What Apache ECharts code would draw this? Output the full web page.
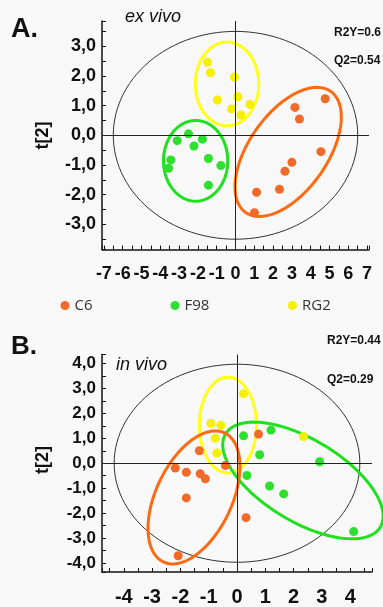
<!DOCTYPE html>
<html>
<head>
<meta charset="utf-8">
<script src="https://cdn.jsdelivr.net/npm/echarts@6/dist/echarts.min.js"></script>
<style>
  html, body { margin: 0; padding: 0; background: #f8f8f8; }
  #chart { width: 383px; height: 607px; }
</style>
</head>
<body>
<div id="chart"></div>
<script>
// score values t[1], t[2]
const c6A = [[4.77, 1.23], [3.16, 0.94], [3.40, 0.55], [4.54, -0.55], [3.00, -0.91], [2.63, -1.21], [2.34, -1.82], [1.12, -1.92], [1.01, -2.61]];
const f98A = [[-2.50, 0.05], [-3.10, -0.18], [-1.76, -0.13], [-2.21, -0.36], [-3.44, -0.83], [-3.56, -1.11], [-1.44, -0.78], [-0.78, -1.02], [-1.44, -1.68]];
const rg2A = [[-1.49, 2.46], [-1.33, 2.11], [-0.05, 1.96], [0.13, 1.30], [-0.96, 1.19], [-0.21, 0.89], [0.77, 1.04], [0.29, 0.68]];

const c6B = [[0.76, 1.17], [-1.33, 0.50], [-2.18, -0.19], [-1.79, -0.36], [-1.30, -0.42], [-1.12, -0.62], [-0.41, -0.09], [-1.79, -1.39], [0.32, -2.18], [-2.08, -3.71]];
const f98B = [[0.23, 1.10], [1.20, 1.33], [0.80, 0.34], [2.92, 0.06], [0.35, -0.49], [1.15, -0.91], [1.65, -1.23], [4.12, -2.74]];
const rg2B = [[0.23, 2.79], [-0.92, 1.60], [-0.57, 1.52], [-0.77, 1.00], [-0.71, 0.41], [2.35, 1.07]];

// ellipses: centre x, centre y, then the two half-axis vectors (u, v)
const ringNames = ['T2', 'RG2', 'F98', 'C6'];
const ringsA = [
  [0, 0, 6.5, 0, 0, 3.5],
  [-0.45, 1.73, 1.69, 0, 0, 1.41],
  [-2.12, -0.86, 1.71, 0, 0, 1.36],
  [2.80, -0.56, 2.26, 2.04, 1.70, -0.754]
];
const ringsB = [
  [0, 0, 4.34, 0, 0, 3.97],
  [-0.32, 1.53, 1.01, 0, 0, 1.92],
  [2.33, -0.69, 2.73, -1.877, 0.762, 1.398],
  [-1.52, -1.37, 1.076, 2.589, 1.217, -0.638]
];

const xTicksA = [-7, -6, -5, -4, -3, -2, -1, 0, 1, 2, 3, 4, 5, 6, 7];
const yTicksA = [-3, -2, -1, 0, 1, 2, 3];
const xTicksB = [-4, -3, -2, -1, 0, 1, 2, 3, 4];
const yTicksB = [-4, -3, -2, -1, 0, 1, 2, 3, 4];

const colors = { C6: '#f26a2a', F98: '#2ee02e', RG2: '#f5ef00' };
const ringStyle = {
  T2: { color: '#333', width: 1 },
  C6: { color: '#ff6a10', width: 3 },
  F98: { color: '#1ee01e', width: 3 },
  RG2: { color: '#ffff1a', width: 3 }
};

const FONT = 'Liberation Sans';

// unit ticks from the auto scale (splitNumber picks 1), half ticks as minor ticks
function baseAxis(grid, r, split, ticks, labelStyle) {
  return {
    type: 'value', gridIndex: grid, min: -r, max: r, splitNumber: split,
    axisLine: { onZero: false, lineStyle: { color: '#111', width: 1.5 } },
    axisTick: { inside: true, length: 4, lineStyle: { color: '#111', width: 1 } },
    minorTick: { show: true, splitNumber: 2, length: 4, lineStyle: { color: '#111', width: 1 } },
    axisLabel: Object.assign({ customValues: ticks, color: '#111', fontFamily: FONT, fontWeight: 'bold' }, labelStyle),
    splitLine: { show: false }
  };
}

function xAxisFor(grid, r, split, ticks, size) {
  return baseAxis(grid, r, split, ticks, { fontSize: size, margin: 15, formatter: (v) => String(v) });
}

function yAxisFor(grid, r, split, ticks, size) {
  return baseAxis(grid, r, split, ticks, {
    fontSize: size, margin: 6,
    formatter: (v) => v.toFixed(1).replace('.', ',')
  });
}

function ringSeries(grid, rings) {
  return {
    type: 'custom', xAxisIndex: grid, yAxisIndex: grid, silent: true, clip: false, z: 1,
    data: rings, encode: { x: 0, y: 1 },
    renderItem: function (params, api) {
      const cx = api.value(0), cy = api.value(1);
      const ux = api.value(2), uy = api.value(3), vx = api.value(4), vy = api.value(5);
      const pts = [];
      for (let i = 0; i < 120; i++) {
        const t = (i / 120) * Math.PI * 2;
        pts.push(api.coord([cx + ux * Math.cos(t) + vx * Math.sin(t), cy + uy * Math.cos(t) + vy * Math.sin(t)]));
      }
      const st = ringStyle[ringNames[params.dataIndex]];
      return { type: 'polygon', shape: { points: pts }, style: { fill: 'none', stroke: st.color, lineWidth: st.width } };
    }
  };
}

function crossSeries(grid) {
  return {
    type: 'scatter', xAxisIndex: grid, yAxisIndex: grid, data: [], silent: true, z: 2,
    markLine: {
      silent: true, symbol: 'none', label: { show: false }, animation: false,
      lineStyle: { color: '#222', width: 1, type: 'solid' },
      data: [{ xAxis: 0 }, { yAxis: 0 }]
    }
  };
}

function dots(name, grid, data) {
  return {
    name: name, type: 'scatter', xAxisIndex: grid, yAxisIndex: grid, z: 3,
    symbolSize: 9, data: data, itemStyle: { color: colors[name], opacity: 1 }
  };
}

function legendAt(name, left) {
  return {
    data: [name], left: left, top: 293, icon: 'circle', itemWidth: 9, itemHeight: 9,
    selectedMode: false,
    textStyle: { fontFamily: 'Open Sans', fontSize: 15, color: '#333' }
  };
}

function label(text, left, top, font) {
  return { type: 'text', left: left, top: top, style: { text: text, font: font, fill: '#111' } };
}

// rotated y-axis title, centred on (x, y)
function yTitle(x, y) {
  return {
    type: 'text', x: x, y: y, rotation: Math.PI / 2,
    style: { text: 't[2]', font: 'bold 18px "Liberation Sans"', fill: '#111', align: 'center', verticalAlign: 'middle' }
  };
}

const chart = echarts.init(document.getElementById('chart'));
chart.setOption({
  animation: false,
  backgroundColor: '#f8f8f8',
  grid: [
    { left: 102, width: 267, top: 21, height: 228.6 },
    { left: 102, width: 270, top: 354.5, height: 220 }
  ],
  xAxis: [xAxisFor(0, 7.1, 14, xTicksA, 18), xAxisFor(1, 4.77, 10, xTicksB, 20)],
  yAxis: [yAxisFor(0, 3.85, 8, yTicksA, 18), yAxisFor(1, 4.36, 9, yTicksB, 17)],
  legend: [legendAt('C6', 55.5), legendAt('F98', 165.5), legendAt('RG2', 283)],
  graphic: [
    label('A.', 11, 16, 'bold 27px "Liberation Sans"'),
    label('B.', 11, 334, 'bold 26px "Liberation Sans"'),
    label('ex vivo', 125, 8, 'italic 18px "Liberation Sans"'),
    label('in vivo', 116, 356, 'italic 18px "Liberation Sans"'),
    label('R2Y=0.6', 334, 27, 'bold 12px "Liberation Sans"'),
    label('Q2=0.54', 334, 55, 'bold 12px "Liberation Sans"'),
    label('R2Y=0.44', 327, 335, 'bold 12px "Liberation Sans"'),
    label('Q2=0.29', 327, 374, 'bold 12px "Liberation Sans"'),
    yTitle(43.5, 135.5),
    yTitle(43.5, 460)
  ],
  series: [
    ringSeries(0, ringsA),
    crossSeries(0),
    dots('C6', 0, c6A),
    dots('F98', 0, f98A),
    dots('RG2', 0, rg2A),
    ringSeries(1, ringsB),
    crossSeries(1),
    dots('C6', 1, c6B),
    dots('F98', 1, f98B),
    dots('RG2', 1, rg2B)
  ]
});
</script>
</body>
</html>
